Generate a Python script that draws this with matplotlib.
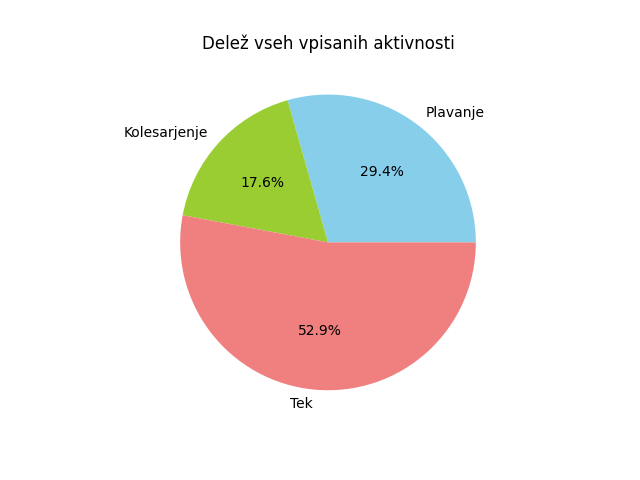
import matplotlib
matplotlib.use("Agg")
import matplotlib.pyplot as plt

# aktivnosti in stevilo vpisov
aktivnosti = ["Plavanje", "Kolesarjenje", "Tek"]
vpisi = [5, 3, 9]
barve = ["skyblue", "yellowgreen", "lightcoral"]

fig, ax = plt.subplots(figsize=(6.4, 4.8), dpi=100)
ax.pie(vpisi, labels=aktivnosti, colors=barve, autopct="%1.1f%%")
ax.set_title("Delež vseh vpisanih aktivnosti")

plt.savefig("out.png")
